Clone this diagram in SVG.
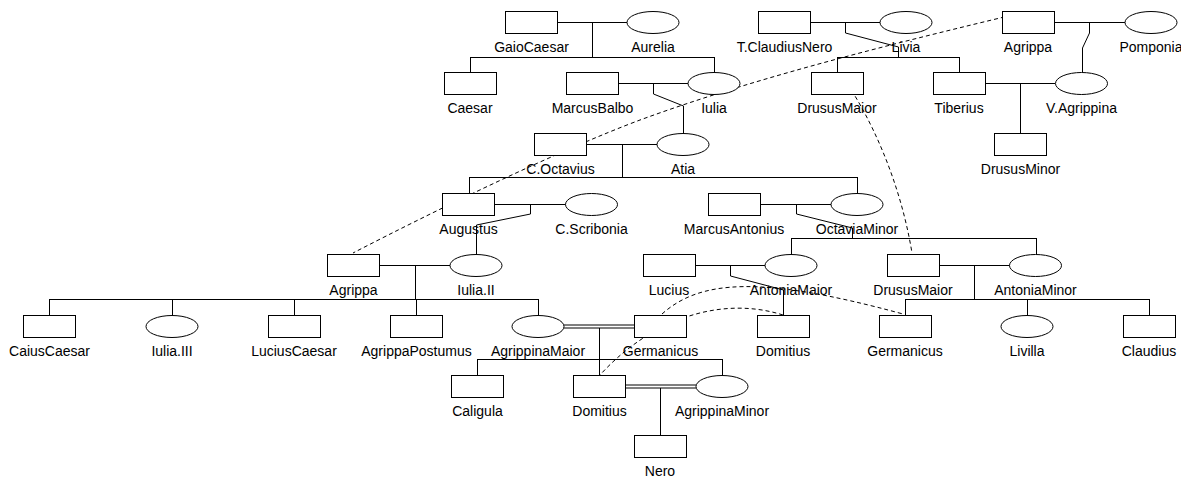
<svg xmlns="http://www.w3.org/2000/svg" width="1181" height="477" viewBox="0 0 1181 477">
<style>
.n rect,.n ellipse{fill:#fff;stroke:#000;stroke-width:1}
.n text{font-family:"Liberation Sans",Arial,sans-serif;font-size:14px;fill:#000;text-anchor:middle}
#edges path{fill:none;stroke:#000;stroke-width:1}
#edges path.d{stroke-dasharray:4,3}
</style>
<rect width="1181" height="477" fill="#fff"/>
<g id="edges">
<path d="M557,22.5H627M592.5,22V57M470.5,57.5H714.5M470.5,57V72M714.5,57V72"/>
<path d="M618,83.5H688M653.5,83V94L683.5,106V133"/>
<path d="M810,22.5H880M845.5,22V33L898.5,47V57M837.5,57.5H959.5M837.5,57V72M959.5,57V72"/>
<path d="M1054,22.5H1125M1089.5,22V33L1082.5,48V72"/>
<path d="M985,83.5H1055M1020.5,83V133"/>
<path d="M586,144.5H657M622.5,144V177M469.5,177.5H857.5M469.5,177V193M857.5,177V193"/>
<path d="M494,204.5H566M530.5,204V214L476.5,225V254"/>
<path d="M760,204.5H831M796.5,204V214L852.5,228V238M791.5,238.5H1036.5M791.5,238V254M1036.5,238V254"/>
<path d="M379,265.5H450M415.5,265V299M49.5,299.5H538.5M49.5,299V315M172.5,299V315M294.5,299V315M416.5,299V315M538.5,299V315"/>
<path d="M695,265.5H765M730.5,265V276L783.5,290V315"/>
<path d="M939,265.5H1010M974.5,265V299M905.5,299.5H1149.5M905.5,299V315M1027.5,299V315M1149.5,299V315"/>
<path d="M564,325H635M564,328H635M599.5,328V375M477.5,359.5H722.5M477.5,359V375M722.5,359V375"/>
<path d="M626,385H696M626,388H696M660.5,388V435"/>
<path class="d" d="M1025,12C900,42 760,76 640,120C560,150 440,208 353,253"/>
<path class="d" d="M840,73C870,115 900,180 912,253"/>
<path class="d" d="M662,314C700,280 760,275 903,314"/>
<path class="d" d="M783,315C720,295 650,320 600,375"/>
</g>
<g id="GaioCaesar" class="n"><rect x="505.5" y="11.5" width="52" height="22"/><text x="531.5" y="52">GaioCaesar</text></g>
<g id="Aurelia" class="n"><ellipse cx="653" cy="22.5" rx="26" ry="11"/><text x="653" y="52">Aurelia</text></g>
<g id="TClaudiusNero" class="n"><rect x="758.5" y="11.5" width="52" height="22"/><text x="784.5" y="52">T.ClaudiusNero</text></g>
<g id="Livia" class="n"><ellipse cx="906" cy="22.5" rx="26" ry="11"/><text x="906" y="52">Livia</text></g>
<g id="Agrippa1" class="n"><rect x="1002.5" y="11.5" width="52" height="22"/><text x="1028" y="52">Agrippa</text></g>
<g id="Pomponia" class="n"><ellipse cx="1151" cy="22.5" rx="26" ry="11"/><text x="1151" y="52">Pomponia</text></g>
<g id="Caesar" class="n"><rect x="444.5" y="72.5" width="52" height="22"/><text x="470" y="113">Caesar</text></g>
<g id="MarcusBalbo" class="n"><rect x="566.5" y="72.5" width="52" height="22"/><text x="592.5" y="113">MarcusBalbo</text></g>
<g id="Iulia" class="n"><ellipse cx="714" cy="83.5" rx="26" ry="11"/><text x="714" y="113">Iulia</text></g>
<g id="DrususMaior1" class="n"><rect x="811.5" y="72.5" width="52" height="22"/><text x="837" y="113">DrususMaior</text></g>
<g id="Tiberius" class="n"><rect x="933.5" y="72.5" width="52" height="22"/><text x="959" y="113">Tiberius</text></g>
<g id="VAgrippina" class="n"><ellipse cx="1081.5" cy="83.5" rx="26" ry="11"/><text x="1081.5" y="113">V.Agrippina</text></g>
<g id="COctavius" class="n"><rect x="534.5" y="133.5" width="52" height="22"/><text x="560.5" y="174">C.Octavius</text></g>
<g id="Atia" class="n"><ellipse cx="683" cy="144.5" rx="26" ry="11"/><text x="683" y="174">Atia</text></g>
<g id="DrususMinor" class="n"><rect x="994.5" y="133.5" width="52" height="22"/><text x="1020.5" y="174">DrususMinor</text></g>
<g id="Augustus" class="n"><rect x="442.5" y="193.5" width="52" height="22"/><text x="468.5" y="234">Augustus</text></g>
<g id="CScribonia" class="n"><ellipse cx="591.5" cy="204.5" rx="26" ry="11"/><text x="591.5" y="234">C.Scribonia</text></g>
<g id="MarcusAntonius" class="n"><rect x="708.5" y="193.5" width="52" height="22"/><text x="734" y="234">MarcusAntonius</text></g>
<g id="OctaviaMinor" class="n"><ellipse cx="857" cy="204.5" rx="26" ry="11"/><text x="857" y="234">OctaviaMinor</text></g>
<g id="Agrippa2" class="n"><rect x="327.5" y="254.5" width="52" height="22"/><text x="353.5" y="295">Agrippa</text></g>
<g id="IuliaII" class="n"><ellipse cx="476" cy="265.5" rx="26" ry="11"/><text x="476" y="295">Iulia.II</text></g>
<g id="Lucius" class="n"><rect x="643.5" y="254.5" width="52" height="22"/><text x="669" y="295">Lucius</text></g>
<g id="AntoniaMaior" class="n"><ellipse cx="791" cy="265.5" rx="26" ry="11"/><text x="791" y="295">AntoniaMaior</text></g>
<g id="DrususMaior2" class="n"><rect x="887.5" y="254.5" width="52" height="22"/><text x="913" y="295">DrususMaior</text></g>
<g id="AntoniaMinor" class="n"><ellipse cx="1035.5" cy="265.5" rx="26" ry="11"/><text x="1035.5" y="295">AntoniaMinor</text></g>
<g id="CaiusCaesar" class="n"><rect x="23.5" y="315.5" width="52" height="22"/><text x="49.5" y="356">CaiusCaesar</text></g>
<g id="IuliaIII" class="n"><ellipse cx="172" cy="326.5" rx="26" ry="11"/><text x="172" y="356">Iulia.III</text></g>
<g id="LuciusCaesar" class="n"><rect x="268.5" y="315.5" width="52" height="22"/><text x="294" y="356">LuciusCaesar</text></g>
<g id="AgrippaPostumus" class="n"><rect x="390.5" y="315.5" width="52" height="22"/><text x="416.5" y="356">AgrippaPostumus</text></g>
<g id="AgrippinaMaior" class="n"><ellipse cx="538" cy="326.5" rx="26" ry="11"/><text x="538" y="356">AgrippinaMaior</text></g>
<g id="Germanicus1" class="n"><rect x="634.5" y="315.5" width="52" height="22"/><text x="660.5" y="356">Germanicus</text></g>
<g id="Domitius1" class="n"><rect x="757.5" y="315.5" width="52" height="22"/><text x="783" y="356">Domitius</text></g>
<g id="Germanicus2" class="n"><rect x="879.5" y="315.5" width="52" height="22"/><text x="905" y="356">Germanicus</text></g>
<g id="Livilla" class="n"><ellipse cx="1027" cy="326.5" rx="26" ry="11"/><text x="1027" y="356">Livilla</text></g>
<g id="Claudius" class="n"><rect x="1123.5" y="315.5" width="52" height="22"/><text x="1149" y="356">Claudius</text></g>
<g id="Caligula" class="n"><rect x="451.5" y="375.5" width="52" height="22"/><text x="477.5" y="416">Caligula</text></g>
<g id="Domitius2" class="n"><rect x="573.5" y="375.5" width="52" height="22"/><text x="599.5" y="416">Domitius</text></g>
<g id="AgrippinaMinor" class="n"><ellipse cx="722" cy="386.5" rx="26" ry="11"/><text x="722" y="416">AgrippinaMinor</text></g>
<g id="Nero" class="n"><rect x="634.5" y="435.5" width="52" height="22"/><text x="660" y="476">Nero</text></g>
</svg>
